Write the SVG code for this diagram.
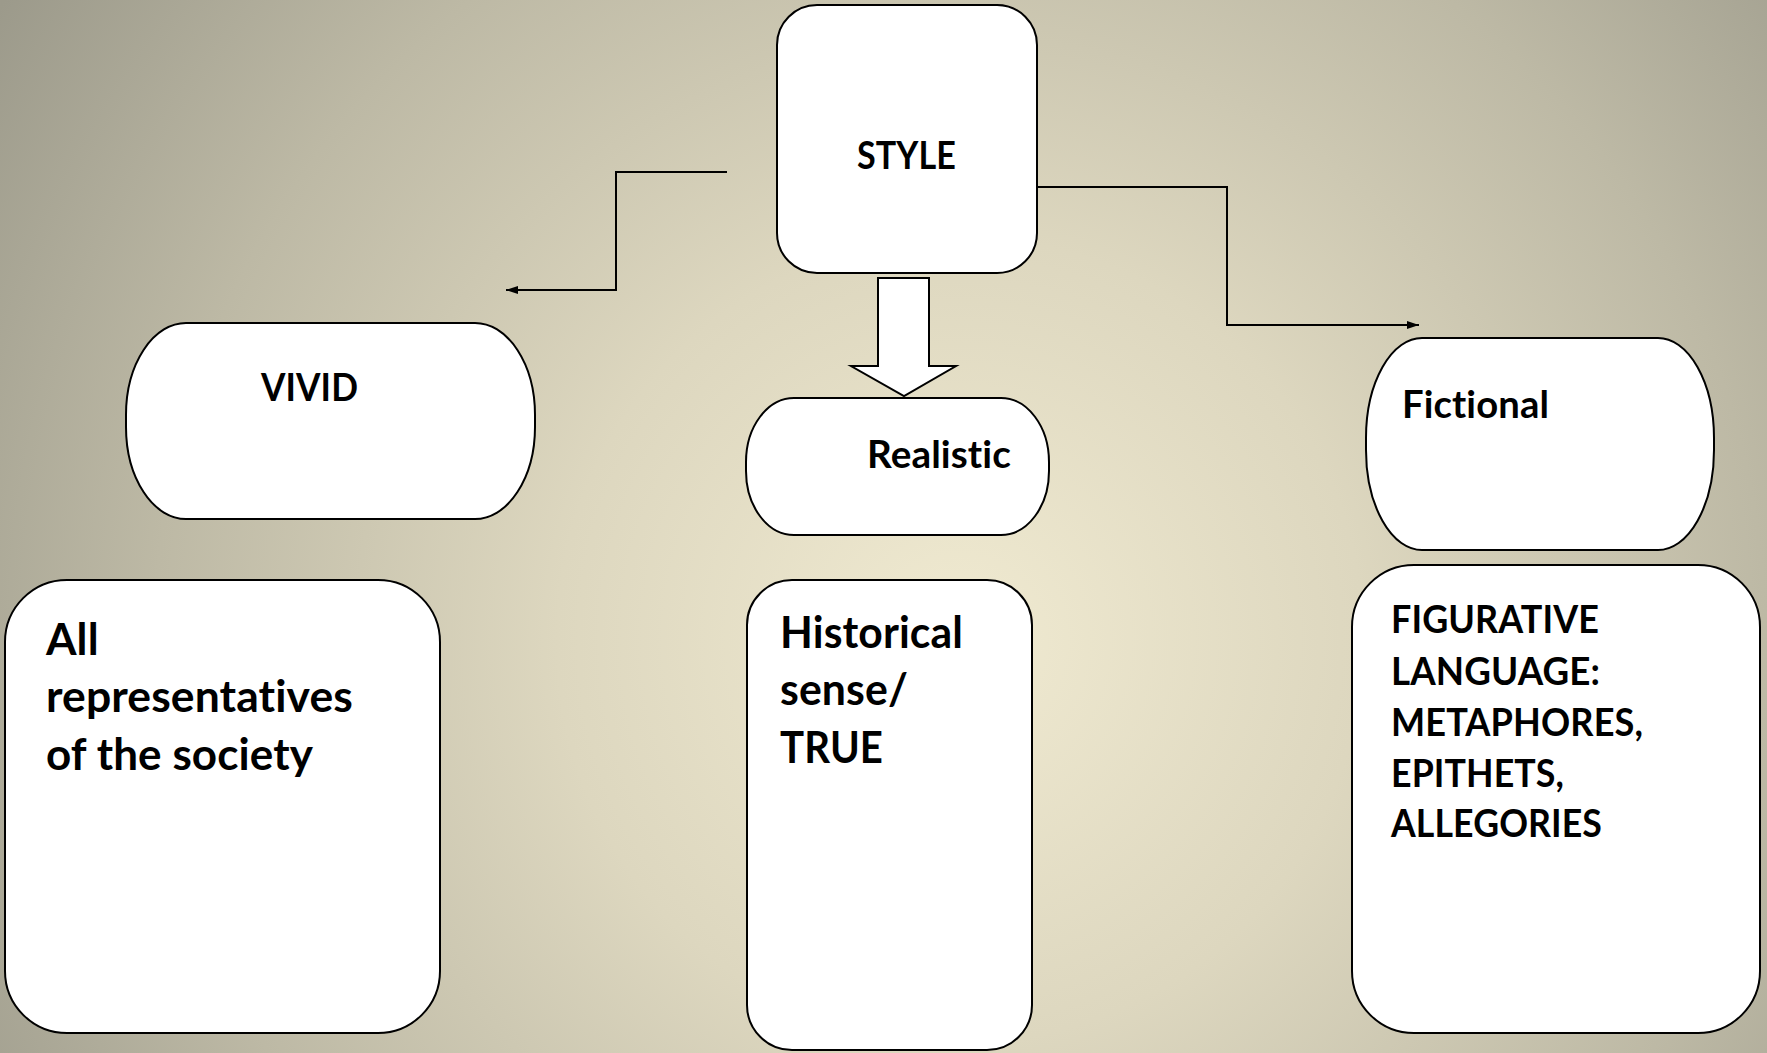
<svg xmlns="http://www.w3.org/2000/svg" width="1767" height="1053" viewBox="0 0 1767 1053">
  <defs>
    <radialGradient id="bg" gradientUnits="userSpaceOnUse" cx="960" cy="640" r="1150">
      <stop offset="0" stop-color="#f0ead1"/>
      <stop offset="0.35" stop-color="#ddd7bf"/>
      <stop offset="0.7" stop-color="#bdb9a5"/>
      <stop offset="1" stop-color="#9c9a8b"/>
    </radialGradient>
    <marker id="ah" viewBox="0 0 12 8" refX="12" refY="4" markerWidth="12" markerHeight="8" markerUnits="userSpaceOnUse" orient="auto">
      <path d="M0,0 L12,4 L0,8 Z" fill="#000"/>
    </marker>
    <style>
      .box { fill: #ffffff; stroke: #000000; stroke-width: 2; }
      .lbl { font-family: Lato, "Open Sans", "Liberation Sans", sans-serif; font-weight: bold; fill: #000000; font-variant-ligatures: none; font-feature-settings: "liga" 0, "clig" 0, "dlig" 0; letter-spacing: 0.1px; }
      .sm { font-size: 38px; }
      .lg { font-size: 44px; }
      .conn { fill: none; stroke: #000000; stroke-width: 2; }
    </style>
  </defs>
  <rect x="0" y="0" width="1767" height="1053" fill="url(#bg)"/>

  <g id="connectors">
    <polyline class="conn" points="727,172 616,172 616,290 506,290" marker-end="url(#ah)"/>
    <polyline class="conn" points="1034,187 1227,187 1227,325 1419,325" marker-end="url(#ah)"/>
    <polygon class="box" points="878,278 929,278 929,366 956,366 904,396 851,366 878,366"/>
  </g>

  <g id="node-style">
    <rect class="box" x="777" y="5" width="260" height="268" rx="40" ry="40"/>
    <text class="lbl sm" x="857" y="169" textLength="99" lengthAdjust="spacingAndGlyphs">STYLE</text>
  </g>

  <g id="node-vivid">
    <rect class="box" x="126" y="323" width="409" height="196" rx="60" ry="92"/>
    <text class="lbl sm" x="261" y="401" textLength="97" lengthAdjust="spacingAndGlyphs">VIVID</text>
  </g>

  <g id="node-realistic">
    <rect class="box" x="746" y="398" width="303" height="137" rx="48" ry="64"/>
    <text class="lbl sm" x="867" y="468" textLength="144" lengthAdjust="spacingAndGlyphs">Realistic</text>
  </g>

  <g id="node-fictional">
    <rect class="box" x="1366" y="338" width="348" height="212" rx="56" ry="100"/>
    <text class="lbl sm" x="1402" y="418" textLength="147" lengthAdjust="spacingAndGlyphs">Fictional</text>
  </g>

  <g id="node-society">
    <rect class="box" x="5" y="580" width="435" height="453" rx="62" ry="62"/>
    <text class="lbl lg" x="46" y="655">All</text>
    <text class="lbl lg" x="46" y="712" textLength="307" lengthAdjust="spacingAndGlyphs">representatives</text>
    <text class="lbl lg" x="46" y="770" textLength="267" lengthAdjust="spacingAndGlyphs">of the society</text>
  </g>

  <g id="node-historical">
    <rect class="box" x="747" y="580" width="285" height="470" rx="45" ry="45"/>
    <text class="lbl lg" x="780" y="648" textLength="183" lengthAdjust="spacingAndGlyphs">Historical</text>
    <text class="lbl lg" x="780" y="705" textLength="128" lengthAdjust="spacingAndGlyphs">sense/</text>
    <text class="lbl lg" x="780" y="763" textLength="103" lengthAdjust="spacingAndGlyphs">TRUE</text>
  </g>

  <g id="node-figurative">
    <rect class="box" x="1352" y="565" width="408" height="468" rx="62" ry="62"/>
    <text class="lbl sm" x="1391" y="633" textLength="208" lengthAdjust="spacingAndGlyphs">FIGURATIVE</text>
    <text class="lbl sm" x="1391" y="685" textLength="209" lengthAdjust="spacingAndGlyphs">LANGUAGE:</text>
    <text class="lbl sm" x="1391" y="736" textLength="252" lengthAdjust="spacingAndGlyphs">METAPHORES,</text>
    <text class="lbl sm" x="1391" y="787" textLength="173" lengthAdjust="spacingAndGlyphs">EPITHETS,</text>
    <text class="lbl sm" x="1391" y="837" textLength="211" lengthAdjust="spacingAndGlyphs">ALLEGORIES</text>
  </g>
</svg>
